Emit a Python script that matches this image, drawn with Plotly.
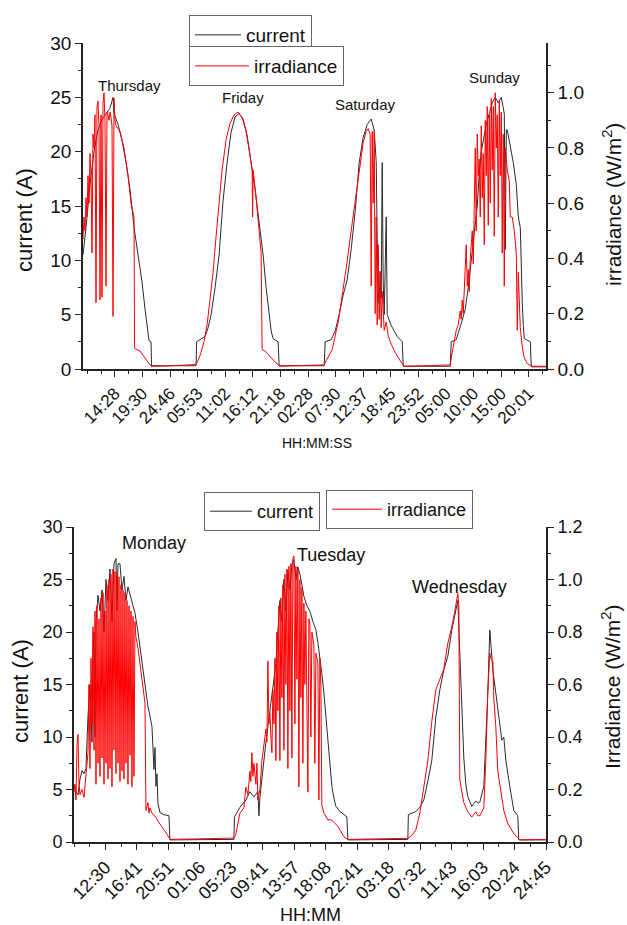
import plotly.graph_objects as go

# ---------------- top panel (Thursday .. Sunday), x in hours from start ----------------
top_cur_t = [0.0, 0.56, 1.30, 2.04, 2.78, 3.52, 4.26, 5.0, 5.55, 5.74, 6.48, 7.22, 7.96, 8.70, 9.44, 10.18,
             10.92, 11.47, 11.84, 12.03, 12.21, 12.58, 12.67, 20.9, 21.0, 21.65, 22.57, 23.13, 23.68, 24.42,
             25.16, 25.9, 26.64, 27.38, 28.12, 28.86, 29.6, 30.34, 31.08, 31.82, 32.56, 33.3, 33.86, 34.41,
             34.78, 35.15, 36.08, 36.26, 44.59, 44.77, 45.88, 46.62, 47.36, 48.1, 48.84, 49.58, 50.32, 51.06,
             51.8, 52.54, 53.28, 53.84, 54.21, 54.39, 54.58, 54.76, 54.95, 55.13, 55.32, 55.5, 55.69, 56.06,
             56.24, 56.61, 56.98, 57.54, 58.09, 59.02, 59.2, 67.9, 68.08, 69.0, 69.56, 70.12, 70.67, 71.23,
             71.78, 72.34, 72.89, 73.26, 73.63, 74.0, 74.56, 75.11, 75.67, 76.22, 76.78, 77.33, 77.89, 78.07,
             78.26, 78.44, 79.0, 79.55, 80.1, 80.48, 80.85, 81.03, 81.22, 81.4, 81.59, 82.7, 82.88, 85.6]
top_cur_v = [10.5, 13, 17, 20, 22, 23, 23.5, 24, 25, 23.5, 22.5, 21, 19, 16.5, 13, 10.5,
             8, 5.5, 4, 3, 2.6, 2.5, 0.3, 0.3, 2.5, 2.7, 3, 3.8, 5, 7.5,
             10.5, 15.5, 19, 21.8, 23.2, 23.5, 23, 21.5, 19, 16.5, 13.5, 10.5, 7.5, 5,
             3.5, 2.8, 2.5, 0.3, 0.3, 2.5, 2.7, 3.5, 5, 6.8, 8.2, 11, 14.5, 19,
             21.3, 22.5, 23, 22, 19, 12, 7, 6, 9, 6.5, 19, 8, 5, 14,
             5, 4.5, 4, 3.5, 3, 2.5, 0.25, 0.25, 2.5, 2.7, 3.5, 4.5, 5.5, 7.5,
             10, 12.5, 15, 18, 20, 21, 22.5, 23.5, 24.5, 25, 24.5, 25, 23.5, 11,
             22, 22, 20.5, 19, 17, 14, 13, 9, 6, 4, 2.8, 2.5, 0.2, 0.2]

top_irr_t = [0.0, 0.185, 0.37, 0.555, 0.74, 0.925, 1.11, 1.295, 1.48, 1.665, 1.85, 2.035, 2.22, 2.405,
             2.59, 2.775, 2.96, 3.145, 3.33, 3.515, 3.70, 3.885, 4.07, 4.255, 4.44, 4.625, 4.81, 4.995,
             5.18, 5.365, 5.55, 5.735, 5.92, 6.105, 6.845, 7.585, 8.325, 8.88, 9.435, 9.53, 9.99, 10.545,
             11.1, 11.655, 12.21, 12.58, 14.245, 17.02, 19.795, 20.905, 21.275, 21.83, 22.385, 22.94,
             23.495, 24.05, 24.605, 25.16, 25.715, 26.455, 27.195, 27.935, 28.675, 29.415, 30.155, 30.895,
             31.265, 31.36, 31.45, 32.005, 32.56, 32.93, 33.115, 33.67, 34.595, 35.52, 36.445, 40.145,
             44.585, 44.955, 45.51, 46.065, 46.62, 47.175, 47.73, 48.285, 48.84, 49.58, 50.32, 51.06, 51.8,
             52.355, 52.725, 53.095, 53.28, 53.465, 53.65, 53.835, 54.02, 54.205, 54.39, 54.575, 54.76,
             54.945, 55.13, 55.315, 55.685, 56.055, 56.425, 56.98, 57.72, 58.645, 59.385, 64.195, 67.895,
             68.08, 68.635, 69.005, 69.375, 69.745, 69.93, 70.115, 70.3, 70.485, 70.855, 71.04, 71.225,
             71.41, 71.595, 71.965, 72.15, 72.335, 72.52, 72.705, 72.89, 73.075, 73.26, 73.445, 73.63,
             73.815, 74.0, 74.185, 74.37, 74.555, 74.74, 74.925, 75.11, 75.295, 75.48, 75.665, 75.85,
             76.035, 76.22, 76.405, 76.59, 76.775, 76.96, 77.145, 77.33, 77.515, 77.7, 77.885, 78.07,
             78.44, 78.81, 78.995, 79.365, 79.735, 80.105, 80.29, 80.475, 80.845, 81.215, 81.585, 82.14,
             83.065, 85.6]
top_irr_v = [0.47, 0.55, 0.50, 0.62, 0.55, 0.70, 0.60, 0.78, 0.70, 0.42, 0.85, 0.80, 0.92, 0.24,
             0.95, 0.97, 0.88, 0.25, 0.92, 0.26, 0.96, 1.0, 0.90, 0.30, 0.93, 0.92, 0.90, 0.93,
             0.91, 0.88, 0.19, 0.98, 0.90, 0.88, 0.86, 0.80, 0.70, 0.60, 0.55, 0.075, 0.07, 0.065,
             0.05, 0.035, 0.02, 0.01, 0.01, 0.012, 0.015, 0.018, 0.03, 0.06, 0.10, 0.16,
             0.25, 0.35, 0.48, 0.60, 0.72, 0.83, 0.89, 0.92, 0.93, 0.91, 0.86, 0.77,
             0.72, 0.55, 0.72, 0.62, 0.50, 0.42, 0.07, 0.065, 0.045, 0.025, 0.01, 0.012,
             0.015, 0.03, 0.05, 0.07, 0.12, 0.17, 0.24, 0.31, 0.39, 0.50, 0.61, 0.72, 0.82,
             0.86, 0.87, 0.85, 0.30, 0.86, 0.60, 0.86, 0.20, 0.55, 0.16, 0.45, 0.18,
             0.35, 0.15, 0.28, 0.14, 0.17, 0.12, 0.09, 0.06, 0.03, 0.01, 0.012, 0.015,
             0.04, 0.10, 0.14, 0.16, 0.21, 0.18, 0.25, 0.20, 0.27, 0.45, 0.30, 0.36,
             0.28, 0.40, 0.50, 0.38, 0.58, 0.80, 0.50, 0.85, 0.70, 0.76, 0.55, 0.88,
             0.62, 0.78, 0.45, 0.90, 0.70, 0.95, 0.52, 0.92, 0.60, 0.98, 0.72, 0.95,
             0.48, 1.0, 0.80, 0.92, 0.55, 0.97, 0.70, 0.93, 0.42, 0.85, 0.30, 0.80,
             0.72, 0.68, 0.55, 0.55, 0.50, 0.42, 0.14, 0.35, 0.15, 0.08, 0.04, 0.02,
             0.01, 0.01]

top_tickvals = [5.9, 11.0, 16.1, 21.2, 26.3, 31.4, 36.5, 41.6, 46.7, 51.8, 56.9, 62.0, 67.1, 72.2, 77.3, 82.4]
top_ticktext = ["14:28", "19:30", "24:46", "05:53", "11:02", "16:12", "21:18", "02:28",
                "07:30", "12:37", "18:45", "23:52", "05:00", "10:00", "15:00", "20:01"]
top_days = ["Thursday", "Friday", "Saturday", "Sunday"]
top_day_t = [8.6, 29.6, 52.3, 76.0]
top_day_y = [26.1, 25.0, 24.3, 26.8]

# ---------------- bottom panel (Monday .. Wednesday) ----------------
bot_cur_t = [0, 0.27, 0.54, 0.81, 1.08, 1.35, 1.62, 1.89, 2.16, 2.43, 2.565, 2.7, 2.835, 2.97, 3.24, 3.51,
             3.78, 4.05, 4.32, 4.59, 4.86, 5.13, 5.4, 5.67, 5.805, 5.94, 6.21, 6.48, 6.75, 7.02, 7.29,
             7.56, 7.83, 8.235, 8.64, 8.91, 9.18, 9.45, 9.72, 9.99, 10.26, 10.53, 10.8, 10.935, 11.07,
             11.205, 11.34, 11.61, 12.15, 12.825, 12.96, 21.6, 21.67, 22.41, 23.22, 23.76, 24.3, 24.84,
             24.975, 25.11, 25.38, 25.65, 25.92, 26.19, 26.46, 26.73, 27.0, 27.27, 27.54, 27.81, 28.08,
             28.35, 28.62, 28.89, 29.16, 29.43, 29.7, 29.97, 30.24, 30.51, 30.78, 31.05, 31.455, 31.86,
             32.265, 32.67, 32.94, 33.21, 33.48, 33.75, 34.02, 34.29, 34.56, 34.83, 35.1, 35.37, 35.91,
             36.45, 36.855, 36.99, 45.09, 45.16, 46.17, 46.71, 47.25, 47.79, 48.33, 48.87, 49.41, 49.95,
             50.49, 51.03, 51.435, 51.84, 52.11, 52.38, 52.65, 52.92, 53.19, 53.73, 54.0, 54.27, 54.54,
             54.81, 55.35, 55.62, 55.89, 56.16, 56.295, 56.565, 56.97, 57.51, 57.78, 58.05, 58.32, 58.86,
             59.4, 59.94, 60.075, 63.72]
bot_cur_v = [5.5, 4.8, 4.5, 6.0, 6.8, 6.5, 7.0, 12, 15, 9.5, 18, 20, 10, 21, 23.5, 22,
             24, 20, 25, 23, 26, 21, 26.5, 27, 22, 26.5, 26.5, 24, 25.3, 23, 24.3,
             23.5, 22.7, 21.8, 20, 18.5, 17, 15.7, 14.5, 12.9, 12, 11, 6.9, 9, 5.3,
             6.5, 3.7, 2.8, 2.6, 2.5, 0.2, 0.25, 2.4, 3.3, 4.0, 4.8, 4.3, 4.8,
             2.5, 4.2, 6, 8, 9.5, 11, 12.5, 14, 15.5, 17, 20, 23, 21,
             25, 22, 25.9, 24, 26.5, 26.9, 25, 26.2, 25.5, 24.5, 23.4, 22.5, 22,
             21, 20.2, 19, 17.6, 16, 14.2, 12, 9.7, 7.5, 5.3, 4.2, 3.4, 2.9,
             2.6, 2.4, 0.2, 0.25, 2.6, 2.9, 3.3, 4, 5.8, 7.8, 11.9, 14.5, 16.4,
             17.7, 20.2, 21.5, 23, 18, 12, 8, 5.5, 4.3, 3.4, 3.6, 3.9, 3.7,
             3.8, 5.3, 9.4, 14.2, 20.2, 19, 16.4, 14.2, 11, 9.7, 10, 7.8, 5.3,
             3.0, 2.5, 0.2, 0.2]

bot_irr_t = [0, 0.135, 0.27, 0.405, 0.54, 0.675, 0.81, 1.08, 1.35, 1.62, 1.89, 2.025, 2.16, 2.295, 2.43,
             2.565, 2.7, 2.835, 2.97, 3.105, 3.24, 3.375, 3.51, 3.645, 3.78, 3.915, 4.05, 4.185, 4.32,
             4.455, 4.59, 4.725, 4.86, 4.995, 5.13, 5.265, 5.4, 5.535, 5.67, 5.805, 5.94, 6.075, 6.21,
             6.345, 6.48, 6.615, 6.75, 6.885, 7.02, 7.155, 7.29, 7.425, 7.56, 7.695, 7.83, 7.965, 8.1,
             8.235, 8.37, 8.64, 8.91, 9.18, 9.45, 9.585, 9.72, 9.99, 10.125, 10.26, 10.53, 10.935, 11.34,
             11.745, 12.15, 12.555, 12.96, 17.01, 21.6, 21.87, 22.41, 22.95, 23.22, 23.49, 23.76, 23.895,
             24.03, 24.165, 24.3, 24.57, 24.705, 24.84, 25.11, 25.38, 25.65, 25.92, 26.055, 26.19, 26.325,
             26.46, 26.595, 26.73, 26.865, 27.0, 27.135, 27.27, 27.405, 27.54, 27.675, 27.81, 27.945,
             28.08, 28.215, 28.35, 28.485, 28.62, 28.755, 28.89, 29.025, 29.16, 29.295, 29.43, 29.565,
             29.7, 29.835, 29.97, 30.105, 30.24, 30.375, 30.51, 30.645, 30.78, 30.915, 31.05, 31.185,
             31.32, 31.59, 31.725, 31.86, 31.995, 32.13, 32.4, 32.535, 32.67, 32.94, 33.075, 33.21,
             33.345, 33.48, 33.75, 34.29, 34.695, 35.1, 35.64, 36.45, 36.99, 41.31, 45.09, 45.63, 46.17,
             46.71, 47.25, 47.79, 48.33, 48.87, 49.41, 49.95, 50.49, 51.03, 51.435, 51.84, 51.975, 52.11,
             52.38, 52.65, 53.19, 53.73, 54.0, 54.27, 54.54, 54.81, 55.35, 55.62, 55.89, 56.16, 56.295,
             56.565, 56.7, 56.97, 57.24, 57.78, 58.05, 58.59, 59.4, 60.21, 63.72]
bot_irr_v = [0.19, 0.22, 0.16, 0.37, 0.41, 0.22, 0.18, 0.20, 0.17, 0.25, 0.34, 0.60, 0.28, 0.70, 0.45,
             0.82, 0.35, 0.88, 0.22, 0.90, 0.30, 0.85, 0.25, 0.93, 0.32, 0.95, 0.22, 0.88, 0.30,
             0.98, 0.24, 1.0, 0.28, 1.02, 0.21, 1.04, 0.35, 1.03, 0.26, 1.02, 0.30, 1.01, 0.23,
             0.98, 0.27, 0.96, 0.24, 0.95, 0.30, 0.92, 0.22, 0.90, 0.33, 0.88, 0.21, 0.86, 0.25,
             0.84, 0.78, 0.74, 0.68, 0.62, 0.57, 0.53, 0.12, 0.15, 0.11, 0.13, 0.11, 0.10, 0.08,
             0.065, 0.046, 0.03, 0.01, 0.012, 0.015, 0.03, 0.11, 0.13, 0.21, 0.18, 0.27, 0.23,
             0.34, 0.25, 0.30, 0.22, 0.30, 0.16, 0.20, 0.31, 0.38, 0.43, 0.38, 0.69, 0.45,
             0.49, 0.40, 0.34, 0.58, 0.45, 0.70, 0.31, 0.80, 0.50, 0.90, 0.31, 0.93,
             0.55, 0.98, 0.35, 1.02, 0.60, 1.04, 0.28, 1.05, 0.50, 1.06, 0.32, 1.08,
             1.09, 0.45, 1.05, 0.62, 1.04, 0.21, 1.0, 0.55, 0.97, 0.30, 0.91, 0.60,
             0.88, 0.19, 0.85, 0.83, 0.40, 0.80, 0.75, 0.30, 0.72, 0.68, 0.16, 0.70,
             0.60, 0.14, 0.11, 0.084, 0.085, 0.075, 0.06, 0.02, 0.01, 0.012, 0.014, 0.025, 0.046,
             0.11, 0.21, 0.31, 0.46, 0.58, 0.62, 0.66, 0.757, 0.82, 0.88, 0.947, 0.90, 0.24,
             0.19, 0.15, 0.115, 0.095, 0.105, 0.115, 0.10, 0.10, 0.13, 0.31, 0.57, 0.72, 0.70,
             0.69, 0.55, 0.44, 0.27, 0.16, 0.12, 0.07, 0.033, 0.008, 0.01]

bot_tickvals = [4.25, 8.5, 12.75, 17.0, 21.25, 25.5, 29.75, 34.0, 38.25, 42.5, 46.75, 51.0, 55.25, 59.5, 63.75]
bot_ticktext = ["12:30", "16:41", "20:51", "01:06", "05:23", "09:41", "13:57", "18:08",
                "22:41", "03:18", "07:32", "11:43", "16:03", "20:24", "24:45"]
bot_days = ["Monday", "Tuesday", "Wednesday"]
bot_day_t = [10.8, 34.7, 52.1]
bot_day_y = [28.5, 27.3, 24.3]

W, H = 627, 925
FONT = "Liberation Sans, Arial, sans-serif"
AX = "#222222"
BLACK = "#2a2a2a"
RED = "#ff0000"

fig = go.Figure()
fig.add_trace(go.Scatter(x=top_cur_t, y=top_cur_v, mode="lines", name="current",
                         line=dict(color=BLACK, width=1), xaxis="x", yaxis="y", legend="legend"))
fig.add_trace(go.Scatter(x=top_irr_t, y=top_irr_v, mode="lines", name="irradiance",
                         line=dict(color=RED, width=1), xaxis="x", yaxis="y2", legend="legend2"))
fig.add_trace(go.Scatter(x=bot_cur_t, y=bot_cur_v, mode="lines", name="current",
                         line=dict(color=BLACK, width=1), xaxis="x2", yaxis="y3", legend="legend3"))
fig.add_trace(go.Scatter(x=bot_irr_t, y=bot_irr_v, mode="lines", name="irradiance",
                         line=dict(color=RED, width=1), xaxis="x2", yaxis="y4", legend="legend4"))


def ax(**kw):
    d = dict(showline=True, linecolor=AX, linewidth=1.6, ticks="outside", ticklen=6, tickwidth=1.4,
             tickcolor=AX, showgrid=False, zeroline=False, automargin=False,
             tickfont=dict(family=FONT, color="#111"))
    d.update(kw)
    return d


minor_y = dict(ticks="outside", ticklen=3, tickwidth=1.2, tickcolor=AX)

top_xdom = [83 / W, 546 / W]
top_ydom = [1 - 369 / H, 1 - 43 / H]
bot_xdom = [74 / W, 546 / W]
bot_ydom = [1 - 842 / H, 1 - 527 / H]

fig.update_layout(
    width=W, height=H, margin=dict(l=0, r=0, t=0, b=0, autoexpand=False),
    paper_bgcolor="white", plot_bgcolor="white",
    font=dict(family=FONT, color="#111"),
    xaxis=ax(domain=top_xdom, anchor="y", range=[0, 85.6], tickmode="array",
             tickvals=top_tickvals, ticktext=top_ticktext, tickangle=-45,
             tickfont=dict(family=FONT, size=17, color="#111"),
             minor=dict(tickmode="linear", tick0=3.35, dtick=2.55, **minor_y)),
    yaxis=ax(domain=top_ydom, anchor="x", range=[0, 30], tick0=0, dtick=5,
             tickfont=dict(family=FONT, size=19, color="#111"), minor=dict(dtick=2.5, **minor_y)),
    yaxis2=ax(domain=top_ydom, anchor="x", overlaying="y", side="right", range=[0, 1.18],
              tickmode="array", tickvals=[0, 0.2, 0.4, 0.6, 0.8, 1.0],
              ticktext=["0.0", "0.2", "0.4", "0.6", "0.8", "1.0"],
              tickfont=dict(family=FONT, size=19, color="#111"),
              minor=dict(tickmode="linear", tick0=0, dtick=0.1, **minor_y)),
    xaxis2=ax(domain=bot_xdom, anchor="y3", range=[0, 63.75], tickmode="array",
              tickvals=bot_tickvals, ticktext=bot_ticktext, tickangle=-45,
              tickfont=dict(family=FONT, size=18, color="#111"),
              minor=dict(tickmode="linear", tick0=0, dtick=2.125, **minor_y)),
    yaxis3=ax(domain=bot_ydom, anchor="x2", range=[0, 30], tick0=0, dtick=5,
              tickfont=dict(family=FONT, size=18, color="#111"), minor=dict(dtick=2.5, **minor_y)),
    yaxis4=ax(domain=bot_ydom, anchor="x2", overlaying="y3", side="right", range=[0, 1.2],
              tickmode="array", tickvals=[0, 0.2, 0.4, 0.6, 0.8, 1.0, 1.2],
              ticktext=["0.0", "0.2", "0.4", "0.6", "0.8", "1.0", "1.2"],
              tickfont=dict(family=FONT, size=18, color="#111"),
              minor=dict(tickmode="linear", tick0=0, dtick=0.1, **minor_y)),
    showlegend=True,
)

leg_common = dict(bgcolor="white", bordercolor="#666666", borderwidth=1, xanchor="left", yanchor="top",
                  tracegroupgap=0)
fig.update_layout(
    legend=dict(x=189 / W, y=1 - 15 / H, itemwidth=46, font=dict(family=FONT, size=19, color="#111"), **leg_common),
    legend2=dict(x=189 / W, y=1 - 46 / H, itemwidth=54, font=dict(family=FONT, size=19, color="#111"), **leg_common),
    legend3=dict(x=204 / W, y=1 - 492 / H, itemwidth=42, font=dict(family=FONT, size=18, color="#111"), **leg_common),
    legend4=dict(x=326 / W, y=1 - 490 / H, itemwidth=50, font=dict(family=FONT, size=18, color="#111"), **leg_common),
)

annos = []
for name, t, yv in zip(top_days, top_day_t, top_day_y):
    annos.append(dict(x=t, y=yv, xref="x", yref="y", text=name, showarrow=False,
                      font=dict(family=FONT, size=15, color="#111")))
for name, t, yv in zip(bot_days, bot_day_t, bot_day_y):
    annos.append(dict(x=t, y=yv, xref="x2", yref="y3", text=name, showarrow=False,
                      font=dict(family=FONT, size=18, color="#111")))

titles = [
    ("current (A)", 24, 220, -90, 22),
    ("irradiance (W/m<sup>2</sup>)", 612, 205, -90, 21),
    ("HH:MM:SS", 317, 443, 0, 14),
    ("current (A)", 20, 691, -90, 22),
    ("Irradiance (W/m<sup>2</sup>)", 611, 687, -90, 21),
    ("HH:MM", 310, 915, 0, 18),
]
for txt, px, py, ang, fs in titles:
    annos.append(dict(x=px / W, y=1 - py / H, xref="paper", yref="paper", text=txt, showarrow=False,
                      textangle=ang, xanchor="center", yanchor="middle",
                      font=dict(family=FONT, size=fs, color="#111")))
fig.update_layout(annotations=annos)

fig.write_html("out.html", config={"displayModeBar": False},
               post_script="document.body.style.margin='0';document.body.style.overflow='hidden';")
